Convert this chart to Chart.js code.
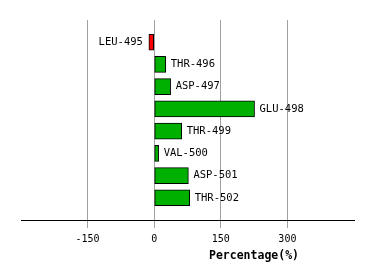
<!DOCTYPE html>
<html>
<head>
<meta charset="utf-8">
<script src="https://cdn.jsdelivr.net/npm/chart.js@4/dist/chart.umd.min.js"></script>
<style>
    html, body { margin: 0; padding: 0; background: #fff; }
    #wrap { width: 374px; height: 280px; }
</style>
</head>
<body>
<div id="wrap"><canvas id="chart" width="374" height="280"></canvas></div>
<script>
const residues = ['LEU-495', 'THR-496', 'ASP-497', 'GLU-498', 'THR-499', 'VAL-500', 'ASP-501', 'THR-502'];
const percentages = [-12, 26, 37, 226, 62, 10, 77, 80];
const xTicks = [-150, 0, 150, 300];
const xTitle = 'Percentage(%)';

const monoFont = '"DejaVu Sans Mono", monospace';

// bar labels beside each bar end, plus the offset axis title
const labelPlugin = {
    id: 'barLabels',
    afterDatasetsDraw(chart) {
        const ctx = chart.ctx;
        const meta = chart.getDatasetMeta(0);
        ctx.save();
        ctx.font = '10.5px ' + monoFont;
        ctx.fillStyle = '#000';
        ctx.textBaseline = 'middle';
        meta.data.forEach((bar, i) => {
            if (percentages[i] < 0) {
                ctx.textAlign = 'right';
                ctx.fillText(residues[i], bar.x - 6, bar.y);
            } else {
                ctx.textAlign = 'left';
                ctx.fillText(residues[i], bar.x + 5, bar.y);
            }
        });
        ctx.font = 'bold 11.5px ' + monoFont;
        ctx.textAlign = 'center';
        ctx.fillText(xTitle, 254, 256);
        ctx.restore();
    }
};

new Chart(document.getElementById('chart').getContext('2d'), {
    type: 'bar',
    data: {
        datasets: [{
            data: percentages.map((v, i) => ({ x: v, y: i + 1 })),
            backgroundColor: percentages.map(v => v < 0 ? '#ff0000' : '#00b000'),
            borderColor: '#000',
            borderWidth: 1,
            borderSkipped: false,
            barThickness: 16
        }]
    },
    options: {
        indexAxis: 'y',
        responsive: false,
        animation: false,
        layout: { padding: { left: 21, right: 20, top: 20, bottom: 0 } },
        plugins: {
            legend: { display: false },
            tooltip: { enabled: false }
        },
        scales: {
            x: {
                type: 'linear',
                min: -300,
                max: 450,
                afterBuildTicks: (axis) => { axis.ticks = xTicks.map(v => ({ value: v })); },
                afterFit: (axis) => { axis.height = 60; },
                grid: { color: '#a0a0a0', tickLength: 8, drawOnChartArea: true },
                border: { color: '#000', width: 1 },
                ticks: {
                    color: '#000',
                    padding: 5,
                    maxRotation: 0,
                    font: { family: monoFont, size: 10 }
                }
            },
            y: {
                type: 'linear',
                min: 0,
                max: 9,
                reverse: true,
                offset: false,
                display: false
            }
        }
    },
    plugins: [labelPlugin]
});
</script>
</body>
</html>
